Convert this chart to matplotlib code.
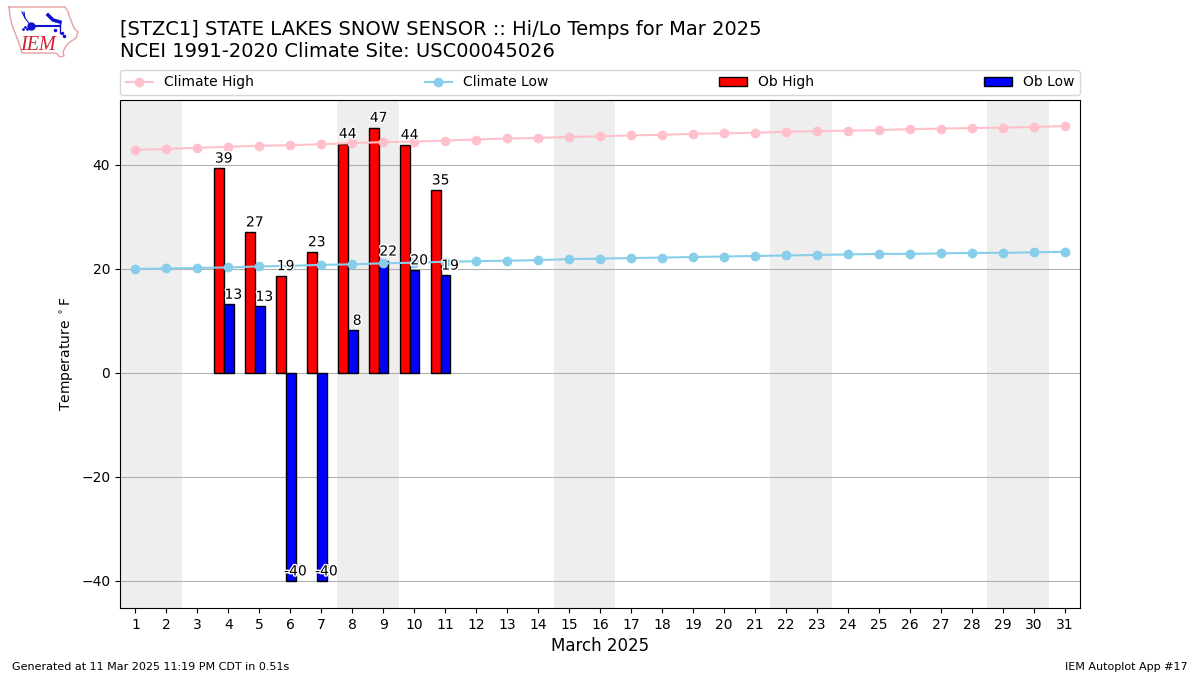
import matplotlib
matplotlib.use('Agg')
import matplotlib.pyplot as plt
import matplotlib.patheffects as pe
import numpy as np

days = list(range(1, 32))
climate_high = [42.9, 43.1, 43.3, 43.5, 43.7, 43.8, 44.0, 44.2, 44.4, 44.5, 44.7,
                44.9, 45.1, 45.2, 45.4, 45.5, 45.7, 45.8, 46.0, 46.1, 46.2, 46.4,
                46.5, 46.6, 46.7, 46.9, 47.0, 47.1, 47.2, 47.3, 47.5]
climate_low = [20.0, 20.1, 20.2, 20.3, 20.5, 20.6, 20.8, 20.9, 21.1, 21.2, 21.4,
               21.5, 21.6, 21.7, 21.9, 22.0, 22.1, 22.2, 22.3, 22.4, 22.5, 22.6,
               22.7, 22.8, 22.9, 22.9, 23.0, 23.1, 23.1, 23.2, 23.3]
ob_days = [4, 5, 6, 7, 8, 9, 10, 11]
ob_high = [39.4, 27.1, 18.7, 23.3, 44.1, 47.2, 43.9, 35.2]
ob_low = [13.2, 12.8, -40.0, -40.0, 8.2, 21.5, 19.8, 18.8]
high_labels = [39, 27, 19, 23, 44, 47, 44, 35]
low_labels = [13, 13, -40, -40, 8, 22, 20, 19]
weekend_starts = [1, 8, 15, 22, 29]

fig = plt.figure(figsize=(12, 6.75), dpi=100)
ax = fig.add_axes([120 / 1200, 1 - 608 / 675, 960 / 1200, 508 / 675])
ax.set_axisbelow(True)

for start in weekend_starts:
    ax.axvspan(start - 0.5, start + 1.5, color='#EEEEEE', zorder=0, lw=0)

x = np.array(ob_days)
ax.bar(x - 0.47, ob_high, width=0.34, align='edge', color='r', edgecolor='k',
       label='Ob High', zorder=1)
ax.bar(x - 0.13, ob_low, width=0.3, align='edge', color='b', edgecolor='k',
       label='Ob Low', zorder=1)
ax.plot(days, climate_high, color='pink', marker='o', lw=1.5, label='Climate High', zorder=2)
ax.plot(days, climate_low, color='skyblue', marker='o', lw=1.5, label='Climate Low', zorder=2)

stroke = [pe.withStroke(linewidth=2, foreground='white')]
for d, val, lbl in zip(ob_days, ob_high, high_labels):
    ax.text(d - 0.15, val + 0.5, f'{lbl}', ha='center', va='bottom', fontsize=10,
            path_effects=stroke, zorder=5)
for d, val, lbl in zip(ob_days, ob_low, low_labels):
    ax.text(d + 0.16, val + 0.5, f'{lbl}', ha='center', va='bottom', fontsize=10,
            path_effects=stroke, zorder=5)

ax.set_xlim(0.5, 31.5)
ax.set_ylim(-45.2, 52.5)
ax.set_xticks(days)
ax.set_yticks([-40, -20, 0, 20, 40])
ax.yaxis.grid(True, color='#b0b0b0')
ax.set_ylabel(r'Temperature $^\circ$F')
ax.set_xlabel('March 2025', fontsize=12)

# legend order follows the reference
handles, labels = ax.get_legend_handles_labels()
order = [labels.index(n) for n in ['Climate High', 'Climate Low', 'Ob High', 'Ob Low']]
ax.legend([handles[i] for i in order], [labels[i] for i in order], ncol=4, mode='expand',
          loc='lower left', bbox_to_anchor=(0, 1.01, 1, 0.102), borderaxespad=0)

fig.text(120 / 1200, 1 - 35 / 675, '[STZC1] STATE LAKES SNOW SENSOR :: Hi/Lo Temps for Mar 2025',
         fontsize=14, va='baseline')
fig.text(120 / 1200, 1 - 57 / 675, 'NCEI 1991-2020 Climate Site: USC00045026',
         fontsize=14, va='baseline')
fig.text(12 / 1200, 1 - 670 / 675, 'Generated at 11 Mar 2025 11:19 PM CDT in 0.51s', fontsize=8)
fig.text(1188 / 1200, 1 - 670 / 675, 'IEM Autoplot App #17', fontsize=8, ha='right')

# logo, drawn in pixel coordinates
logo = fig.add_axes([0, 1 - 70 / 675, 130 / 1200, 70 / 675])
logo.set_xlim(0, 130)
logo.set_ylim(70, 0)
logo.axis('off')
outline_x = [9, 65, 68, 70, 74, 78, 76, 70, 66, 63, 64, 60, 56, 22, 20, 17, 12, 10, 9]
outline_y = [7, 7, 12, 18, 28, 32, 38, 42, 46, 52, 56, 57, 53, 53, 46, 38, 25, 16, 7]
logo.plot(outline_x, outline_y, color='#E8A0A0', lw=1)
logo.plot([31, 60], [26, 26], color='#1010D0', lw=1.5)
logo.plot([60, 60], [21, 33], color='#1010D0', lw=1)
logo.plot([48, 53, 60], [15, 20, 22], color='#1010D0', lw=2.5)
logo.plot([22, 25, 24], [12, 18, 12], color='#1010D0', lw=0.8)
logo.plot([25, 31], [18, 26], color='#1010D0', lw=0.8)
logo.plot([31], [26], marker='o', ms=5, color='#1010D0')
logo.plot([23, 25, 27], [29, 27, 29], ls='', marker='.', ms=2, color='#1010D0')
logo.plot([55, 62, 64], [30, 33, 36], ls='', marker='.', ms=3, color='#1010D0')
logo.text(37.5, 45.5, 'IEM', color='#D02030', fontsize=14.5, family='Liberation Serif',
          style='italic', ha='center', va='center')

fig.savefig('out.png', dpi=100)
